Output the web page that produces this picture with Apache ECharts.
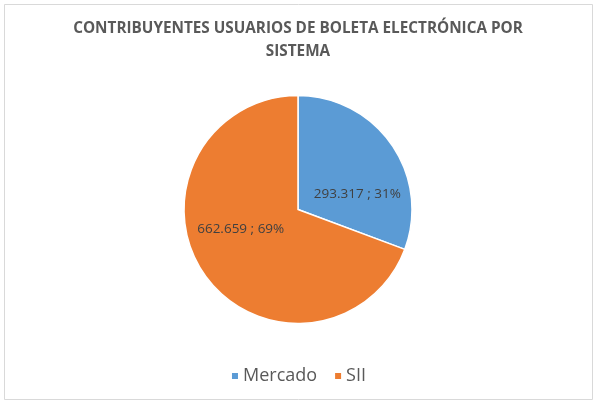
<!DOCTYPE html>
<html>
<head>
<meta charset="utf-8">
<script src="https://cdn.jsdelivr.net/npm/echarts@6/dist/echarts.min.js"></script>
<style>
html,body{margin:0;padding:0;background:#fff;}
#c{width:596px;height:402px;}
</style>
</head>
<body>
<div id="c"></div>
<script>
const titleText = 'CONTRIBUYENTES USUARIOS DE BOLETA ELECTRÓNICA POR\nSISTEMA';
const categories = ['Mercado', 'SII'];
const values = [293317, 662659];
const colors = ['#5B9BD5', '#ED7D31'];

function fmtThousands(v) {
  return String(v).replace(/\B(?=(\d{3})+(?!\d))/g, '.');
}

const labelOffsets = [[10, 19], [-8, -15]];

const chart = echarts.init(document.getElementById('c'), null, {renderer: 'canvas'});
chart.setOption({
  animation: false,
  backgroundColor: '#fff',
  graphic: [{
    type: 'rect',
    shape: {x: 4.5, y: 4.5, width: 588, height: 395},
    style: {fill: 'none', stroke: '#d9d9d9', lineWidth: 1},
    silent: true
  }],
  title: {
    text: titleText,
    left: 'center',
    top: 12,
    textStyle: {
      fontFamily: 'Open Sans',
      fontWeight: 'bold',
      fontSize: 15.3,
      color: '#595959',
      lineHeight: 23
    }
  },
  legend: {
    bottom: 12,
    left: 'center',
    icon: 'rect',
    itemWidth: 8,
    itemHeight: 8,
    itemGap: 16,
    textStyle: {fontFamily: 'Open Sans', fontSize: 18, color: '#595959', padding: [0, 0, 0, -1]},
    data: categories
  },
  series: [{
    type: 'pie',
    center: [298, 209.5],
    radius: [0, 114],
    startAngle: 90,
    clockwise: true,
    itemStyle: {borderColor: '#fff', borderWidth: 1.5},
    label: {
      position: 'inside',
      fontFamily: 'Open Sans',
      fontSize: 13.5,
      color: '#404040',
      formatter: p => fmtThousands(p.value) + ' ; ' + Math.round(p.percent) + '%'
    },
    labelLine: {show: false},
    data: categories.map((n, i) => ({
      name: n,
      value: values[i],
      itemStyle: {color: colors[i]},
      label: {offset: labelOffsets[i]}
    }))
  }]
});
</script>
</body>
</html>
